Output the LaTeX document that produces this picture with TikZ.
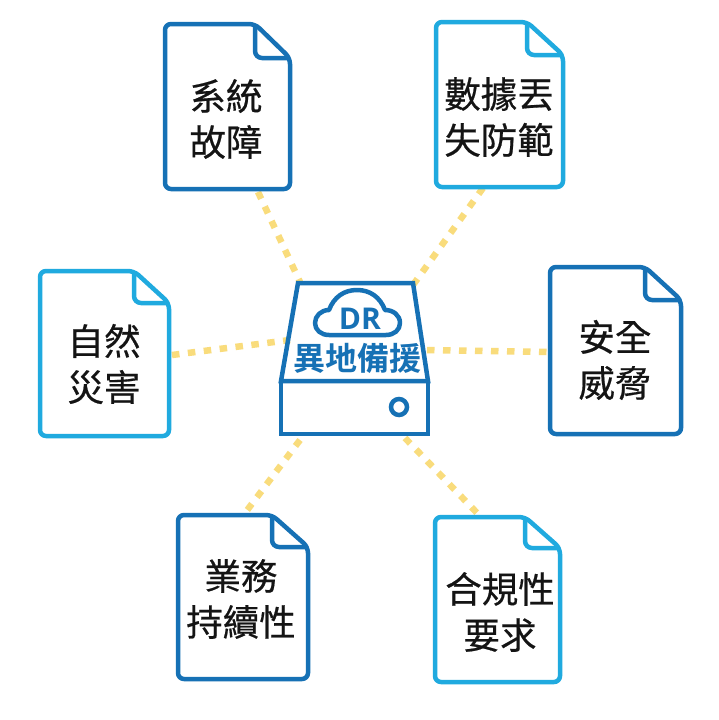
\documentclass[tikz,border=0pt]{standalone}
\usepackage{fontspec}
\newfontfamily\cjk[FakeBold=0.5]{Noto Sans CJK TC}
\newfontfamily\cjkb{Noto Sans CJK TC Bold}
\setsansfont{Open Sans}
\usetikzlibrary{calc}
\definecolor{darkblue}{HTML}{1671B5}
\definecolor{lightblue}{HTML}{20AADF}
\definecolor{dotyellow}{HTML}{F9DC7C}
\tikzset{
  link/.style={draw=dotyellow,line width=6.5pt,dash pattern=on 7.5pt off 8.5pt},
  label/.style={font=\cjk\fontsize{36.5}{46}\selectfont,text=black!92,align=center,inner sep=0pt},
  docline/.style={line width=4.5pt,rounded corners=6pt,line join=round},
}
\newcommand{\docpage}[7]{% name, left, top, right, bottom, foldx, foldy
  \coordinate (#1nw) at (#2,#3);
  \draw[docline,draw=docc] ($(#2,#3)!0.5!(#6,#3)$) -- (#6,#3) -- (#4,#7) -- (#4,#5) -- (#2,#5) -- (#2,#3) -- cycle;
  \draw[docline,draw=docc,rounded corners=7pt] (#6,#3) -- (#6,#7) -- (#4,#7);
}
\begin{document}
\begin{tikzpicture}[x=1pt,y=-1pt]
\useasboundingbox (0,0) rectangle (718,720);
\fill[white] (0,0) rectangle (718,720);

\coordinate (sysA) at (258,192); \coordinate (srvA) at (300,282);
\coordinate (datA) at (483,188); \coordinate (srvB) at (413,285);
\coordinate (natA) at (172,355); \coordinate (srvC) at (290,340);
\coordinate (secA) at (547,352); \coordinate (srvD) at (427,350);
\coordinate (bizA) at (245,513); \coordinate (srvE) at (300,440);
\coordinate (cmpA) at (478,514); \coordinate (srvF) at (405,438);
\draw[link] (sysA) -- (srvA);
\draw[link] (datA) -- (srvB);
\draw[link] (natA) -- (srvC);
\draw[link] (srvD) -- (secA);
\draw[link] (srvE) -- (bizA);
\draw[link] (srvF) -- (cmpA);

\colorlet{docc}{darkblue}
\docpage{sys}{165}{24}{290}{189}{255}{58}
\docpage{sec}{550}{267}{681}{434}{645}{300}
\docpage{biz}{178}{515}{308}{679}{272}{547}
\colorlet{docc}{lightblue}
\docpage{dat}{436}{22}{563}{187}{527}{55}
\docpage{nat}{40}{271}{169}{436}{134}{303}
\docpage{cmp}{435}{517}{560}{682}{525}{548}

\node[label] (sys) at (226,119) {系統\\故障};
\node[label] (dat) at (499,117) {數據丟\\失防範};
\node[label] (nat) at (104,364) {自然\\災害};
\node[label] (sec) at (615,360) {安全\\威脅};
\node[label] (biz) at (241,599) {業務\\持續性};
\node[label] (cmp) at (500,612) {合規性\\要求};

% server
\draw[darkblue,line width=4.5pt,line join=miter] (298,283) -- (413,283) -- (428,381) -- (281,381) -- cycle;
\draw[darkblue,line width=4.5pt,line join=miter] (281,381) rectangle (428,434);
\draw[darkblue,line width=4.5pt] (399,407) circle (8pt);
\draw[darkblue,line width=4.5pt,line join=round]
  (329,335) -- (386,335)
  .. controls (394,335) and (400,330) .. (400,323)
  .. controls (400,315) and (393,310) .. (385,310)
  .. controls (380,297) and (370,290) .. (357,290)
  .. controls (344,290) and (334,297) .. (329,310)
  .. controls (321,310) and (315,316) .. (315,323)
  .. controls (315,330) and (321,335) .. (329,335) -- cycle;
\node[text=darkblue,font=\sffamily\bfseries\fontsize{30}{30}\selectfont,inner sep=0pt] (dr) at (360,319) {DR};
\node[text=darkblue,font=\cjkb\fontsize{32}{32}\selectfont,inner sep=0pt] (srv) at (357,358) {異地備援};
\end{tikzpicture}
\end{document}
